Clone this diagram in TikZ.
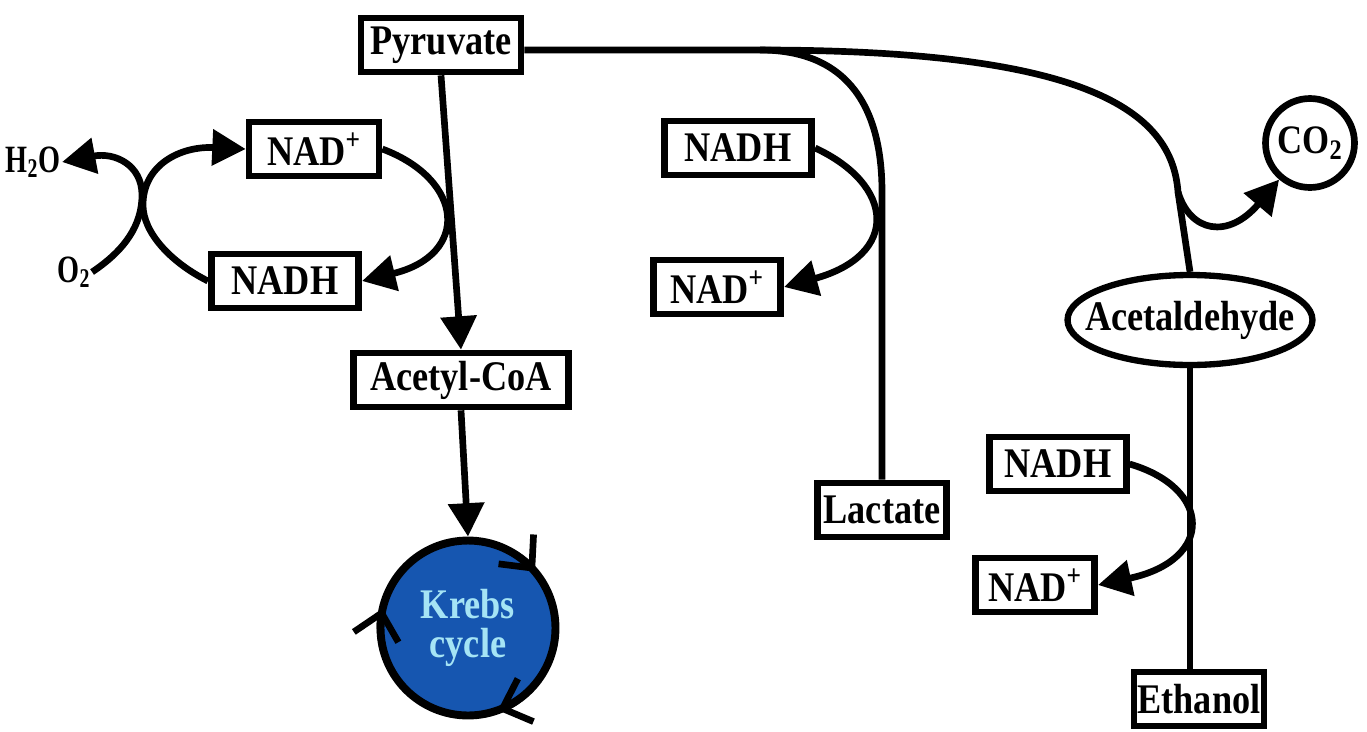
\documentclass[tikz,border=0pt]{standalone}
\usepackage{fontspec}
\setmainfont{Liberation Serif}[FakeStretch=0.86]
\usetikzlibrary{arrows.meta, positioning, shapes.geometric}
\definecolor{krebsblue}{RGB}{22,86,176}
\definecolor{krebstext}{RGB}{165,228,245}

\begin{document}
\begin{tikzpicture}[x=0.02cm, y=-0.02cm,
    font=\fontsize{24}{26}\selectfont\bfseries,
    box/.style={draw, line width=3.8pt, inner sep=2pt, minimum height=1.08cm},
    lbl/.style={inner sep=1pt, xscale=0.85, font=\fontsize{22}{24}\selectfont\bfseries},
    flow/.style={line width=3.8pt},
    arr/.style={flow, -{Triangle[length=19pt, width=20pt]}}]
  \useasboundingbox (0,0) rectangle (1367,731);

  % aerobic branch
  \node[box, minimum width=3.2cm] (pyr) at (441,45) {Pyruvate};
  \node[box, minimum width=2.6cm] (nadA) at (314,149) {NAD\textsuperscript{+}};
  \node[box, minimum width=2.95cm] (nadhA) at (285,281) {NADH};
  \node[lbl] (h2o) at (33,162) {H\textsubscript{2}O};
  \node[lbl] (o2) at (74,272) {O\textsubscript{2}};
  \node[box, minimum width=4.3cm] (acoa) at (461,380) {Acetyl-CoA};
  \node[circle, draw, line width=4.5pt, fill=krebsblue, minimum size=3.5cm,
        text=krebstext, font=\fontsize{24}{22}\selectfont\bfseries, align=center] (krebs) at (468,628) {Krebs\\cycle};

  % lactate branch
  \node[box, minimum width=2.95cm] (nadhB) at (738,148) {NADH};
  \node[box, minimum width=2.55cm] (nadB) at (717,287) {NAD\textsuperscript{+}};
  \node[box, minimum width=2.59cm] (lact) at (882,510) {Lactate};

  % ethanol branch
  \node[circle, draw, line width=3.8pt, minimum size=1.78cm, inner sep=0pt,
        font=\fontsize{23}{25}\selectfont\bfseries] (co2) at (1310,143) {CO\textsubscript{2}};
  \node[ellipse, draw, line width=3.6pt, inner sep=0pt, minimum width=4.9cm,
        minimum height=1.8cm] (ald) at (1190,320) {\makebox[3.4cm][c]{Acetaldehyde}};
  \node[box, minimum width=2.73cm] (nadhC) at (1058,464) {NADH};
  \node[box, minimum width=2.39cm] (nadC) at (1035,585) {NAD\textsuperscript{+}};
  \node[box, minimum width=2.51cm] (etoh) at (1199,699) {Ethanol};

  \coordinate (fork) at (760,50);
  \coordinate (bend) at (1178,192);

  \draw[arr] (pyr.south) -- (acoa.north);
  \draw[arr] (acoa.south) -- (krebs.north);
  \foreach \a/\b in {-72/-40, -199/-167, 38/70}
    \draw[line width=3.8pt, -{Straight Barb[length=14pt, width=26pt]}]
      (krebs.center) ++(\a:87.5) arc[start angle=\a, end angle=\b, radius=87.5];

  % NAD+ / NADH shuttles
  \draw[arr] (nadA.east) .. controls (465,180) and (470,255) .. (nadhA.east);
  \draw[arr] (o2.east) .. controls (125,250) and (142,225) .. (142,195)
             .. controls (142,165) and (115,152) .. (h2o.east);
  \draw[arr] (nadhA.west) .. controls (170,262) and (143,232) .. (143,205)
             .. controls (143,165) and (180,146) .. (nadA.west);
  \draw[arr] (nadhB.east) .. controls (895,185) and (900,255) .. (nadB.east);
  \draw[arr] (nadhC.east) .. controls (1212,488) and (1215,560) .. (nadC.east);

  % pyruvate to lactate and acetaldehyde
  \draw[flow] (pyr.east |- fork) -- (fork)
        .. controls (1085,50) and (1172,110) .. (bend) -- (ald.north);
  \draw[flow] (fork) .. controls (850,50) and (882,110) .. (lact.north |- bend) -- (lact.north);
  \draw[arr] (bend) .. controls (1190,232) and (1228,240) .. (co2);
  \draw[flow] (ald.south) -- (ald.south |- etoh.north);
\end{tikzpicture}
\end{document}
